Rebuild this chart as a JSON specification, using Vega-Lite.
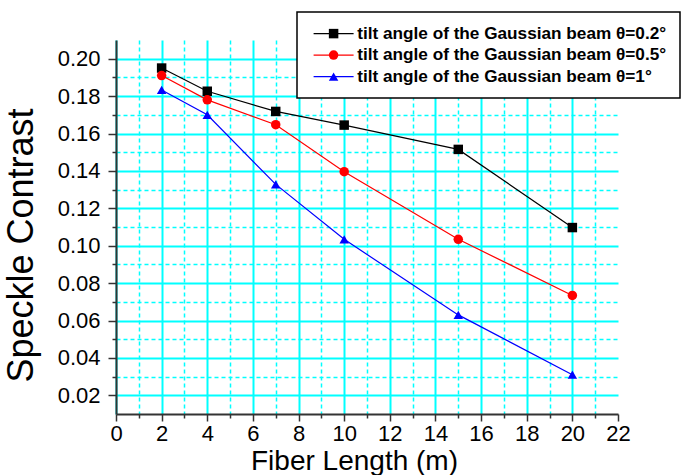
{
  "$schema": "https://vega.github.io/schema/vega-lite/v6.json",
  "width": 502,
  "height": 374,
  "autosize": {"type": "none"},
  "padding": {"left": 116, "top": 40, "right": 63, "bottom": 61},
  "background": "white",
  "data": {
    "values": [
      {"series": "tilt angle of the Gaussian beam θ=0.2°", "length": 2, "contrast": 0.195},
      {"series": "tilt angle of the Gaussian beam θ=0.2°", "length": 4, "contrast": 0.1826},
      {"series": "tilt angle of the Gaussian beam θ=0.2°", "length": 7, "contrast": 0.1718},
      {"series": "tilt angle of the Gaussian beam θ=0.2°", "length": 10, "contrast": 0.1645},
      {"series": "tilt angle of the Gaussian beam θ=0.2°", "length": 15, "contrast": 0.1515},
      {"series": "tilt angle of the Gaussian beam θ=0.2°", "length": 20, "contrast": 0.1097},
      {"series": "tilt angle of the Gaussian beam θ=0.5°", "length": 2, "contrast": 0.191},
      {"series": "tilt angle of the Gaussian beam θ=0.5°", "length": 4, "contrast": 0.178},
      {"series": "tilt angle of the Gaussian beam θ=0.5°", "length": 7, "contrast": 0.1647},
      {"series": "tilt angle of the Gaussian beam θ=0.5°", "length": 10, "contrast": 0.1396},
      {"series": "tilt angle of the Gaussian beam θ=0.5°", "length": 15, "contrast": 0.1034},
      {"series": "tilt angle of the Gaussian beam θ=0.5°", "length": 20, "contrast": 0.0734},
      {"series": "tilt angle of the Gaussian beam θ=1°", "length": 2, "contrast": 0.1833},
      {"series": "tilt angle of the Gaussian beam θ=1°", "length": 4, "contrast": 0.170},
      {"series": "tilt angle of the Gaussian beam θ=1°", "length": 7, "contrast": 0.1328},
      {"series": "tilt angle of the Gaussian beam θ=1°", "length": 10, "contrast": 0.1034},
      {"series": "tilt angle of the Gaussian beam θ=1°", "length": 15, "contrast": 0.063},
      {"series": "tilt angle of the Gaussian beam θ=1°", "length": 20, "contrast": 0.031}
    ]
  },
  "config": {
    "view": {"stroke": null},
    "font": "Liberation Sans",
    "legend": {
      "labelFont": "Liberation Sans",
      "labelFontSize": 17.2,
      "labelFontWeight": "bold",
      "labelColor": "black",
      "labelLimit": 0,
      "rowPadding": 3.5,
      "padding": 13,
      "labelOffset": 5,
      "title": null
    }
  },
  "resolve": {
    "axis": {"x": "independent", "y": "independent"},
    "legend": {"color": "independent", "shape": "independent"}
  },
  "layer": [
    {
      "mark": {"type": "line", "opacity": 0},
      "encoding": {
        "detail": {"field": "series"},
        "x": {
          "field": "length", "type": "quantitative",
          "scale": {"domain": [0, 22], "nice": false, "zero": false},
          "axis": {
            "orient": "bottom", "values": [1, 3, 5, 7, 9, 11, 13, 15, 17, 19, 21],
            "labels": false, "domain": false, "ticks": true, "tickSize": 4, "tickColor": "#333", "tickWidth": 1.5,
            "grid": true, "gridColor": "#00FFFF", "gridDash": [4, 3], "gridWidth": 1.5, "title": null
          }
        },
        "y": {
          "field": "contrast", "type": "quantitative",
          "scale": {"domain": [0.01, 0.21], "nice": false, "zero": false},
          "axis": {
            "orient": "left", "values": [0.03, 0.05, 0.07, 0.09, 0.11, 0.13, 0.15, 0.17, 0.19],
            "labels": false, "domain": false, "ticks": true, "tickSize": 4, "tickColor": "#333", "tickWidth": 1.5,
            "grid": true, "gridColor": "#00FFFF", "gridDash": [4, 3], "gridWidth": 1.5, "title": null
          }
        }
      }
    },
    {
      "mark": {"type": "line", "strokeWidth": 1.2},
      "encoding": {
        "x": {
          "field": "length", "type": "quantitative",
          "axis": {
            "orient": "bottom", "values": [0, 2, 4, 6, 8, 10, 12, 14, 16, 18, 20, 22],
            "grid": true, "gridColor": "#00FFFF", "gridWidth": 2,
            "gridOpacity": {"condition": {"test": "datum.value === 22", "value": 0}, "value": 1},
            "domainColor": "#333", "domainWidth": 2, "tickColor": "#333", "tickWidth": 1.5, "tickSize": 7,
            "labelFontSize": 22, "labelColor": "black", "labelFont": "Liberation Sans", "labelPadding": 2, "labelFlush": false,
            "title": "Fiber Length (m)", "titleFontSize": 28, "titleFontWeight": "normal", "titleColor": "black",
            "titleFont": "Liberation Sans", "titlePadding": 3, "titleX": 238, "titleAlign": "center"
          }
        },
        "y": {
          "field": "contrast", "type": "quantitative",
          "axis": {
            "orient": "left", "values": [0.02, 0.04, 0.06, 0.08, 0.1, 0.12, 0.14, 0.16, 0.18, 0.2], "format": ".2f",
            "grid": true, "gridColor": "#00FFFF", "gridWidth": 2,
            "domainColor": "#333", "domainWidth": 2, "tickColor": "#333", "tickWidth": 1.5, "tickSize": 8,
            "labelFontSize": 22, "labelColor": "black", "labelFont": "Liberation Sans", "labelPadding": 8, "labelFlush": false,
            "title": "Speckle Contrast", "titleFontSize": 36, "titleFontWeight": "normal", "titleColor": "black",
            "titleFont": "Liberation Sans", "titlePadding": 17, "titleY": 205, "titleAlign": "center"
          }
        },
        "color": {
          "field": "series", "type": "nominal",
          "scale": {
            "domain": ["tilt angle of the Gaussian beam θ=0.2°", "tilt angle of the Gaussian beam θ=0.5°", "tilt angle of the Gaussian beam θ=1°"],
            "range": ["#000000", "#FF0000", "#0000FF"]
          },
          "legend": {
            "orient": "none", "legendX": 181, "legendY": -28,
            "symbolType": "M-4,0H4", "symbolSize": 100, "symbolStrokeWidth": 1.2,
            "symbolOffset": 15, "labelOffset": 15,
            "fillColor": "white", "strokeColor": "black",
            "encode": {
              "legend": {"update": {"strokeWidth": {"value": 1.5}}}
            }
          }
        }
      }
    },
    {
      "mark": {"type": "point", "filled": true, "opacity": 1, "size": 90},
      "encoding": {
        "x": {"field": "length", "type": "quantitative", "axis": null},
        "y": {"field": "contrast", "type": "quantitative", "axis": null},
        "color": {
          "field": "series", "type": "nominal",
          "legend": {"orient": "none", "legendX": 196, "legendY": -28, "labelExpr": "' '", "labelOpacity": 0, "symbolSize": 90, "symbolOpacity": 1}
        },
        "shape": {
          "field": "series", "type": "nominal",
          "scale": {
            "domain": ["tilt angle of the Gaussian beam θ=0.2°", "tilt angle of the Gaussian beam θ=0.5°", "tilt angle of the Gaussian beam θ=1°"],
            "range": ["square", "circle", "triangle-up"]
          },
          "legend": {"orient": "none", "legendX": 196, "legendY": -28, "labelExpr": "' '", "labelOpacity": 0, "symbolSize": 90, "symbolOpacity": 1}
        }
      }
    }
  ]
}
